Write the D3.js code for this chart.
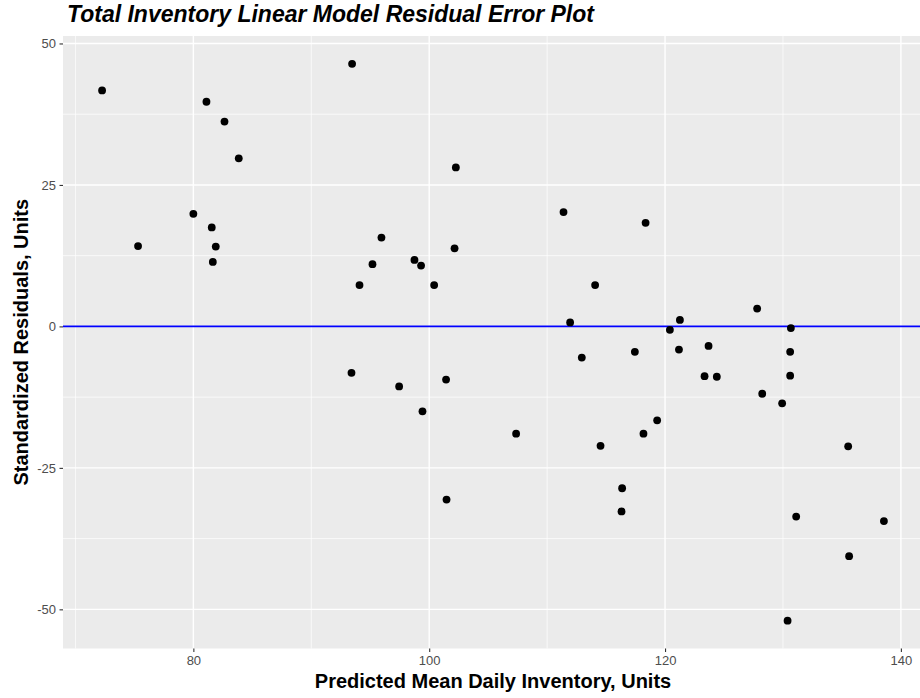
<!DOCTYPE html>
<html>
<head>
<meta charset="utf-8">
<script src="https://cdn.jsdelivr.net/npm/d3@7"></script>
<style>
  html, body { margin: 0; padding: 0; background: #fff; }
  svg { display: block; font-family: "Liberation Sans", Arial, Helvetica, sans-serif; }
</style>
</head>
<body>
<svg id="chart" width="920" height="698"></svg>
<script>
// Predicted mean daily inventory (fitted values) and standardized residuals
const predicted = [
  72.26, 75.31, 80.0, 81.11, 81.56, 81.9, 81.65, 82.64, 83.85,
  93.46, 93.41, 94.09, 95.19, 95.95, 97.45, 98.75, 99.31, 99.43,
  100.42, 101.43, 101.47, 102.15, 102.26, 107.37, 111.39, 111.95,
  112.94, 114.07, 114.53, 116.36, 116.31, 117.44, 118.17, 118.35,
  119.33, 120.41, 121.26, 121.18, 123.35, 123.69, 124.39, 127.81,
  128.24, 129.93, 130.39, 130.67, 130.61, 130.61, 131.12, 135.53,
  135.61, 138.56
];
const residuals = [
  41.7, 14.2, 19.9, 39.7, 17.5, 14.1, 11.4, 36.2, 29.7,
  46.4, -8.2, 7.3, 11.0, 15.7, -10.6, 11.75, 10.75, -15.0,
  7.3, -9.4, -30.6, 13.8, 28.1, -18.95, 20.2, 0.7,
  -5.5, 7.3, -21.1, -28.6, -32.7, -4.5, -18.95, 18.3,
  -16.6, -0.6, 1.15, -4.1, -8.8, -3.45, -8.9, 3.15,
  -11.9, -13.6, -52.0, -0.3, -4.5, -8.7, -33.6, -21.2,
  -40.6, -34.4
];
const xTicks = [80, 100, 120, 140];
const xMinor = [70, 90, 110, 130];
const yTicks = [-50, -25, 0, 25, 50];
const yMinor = [-37.5, -12.5, 12.5, 37.5];

const titleText = "Total Inventory Linear Model Residual Error Plot";
const xLabel = "Predicted Mean Daily Inventory, Units";
const yLabel = "Standardized Residuals, Units";

const svg = d3.select("#chart");
const panel = { left: 63, top: 36, right: 923, bottom: 648.5 };

// 5% padding on each side of the data range
function padded(values) {
  const [lo, hi] = d3.extent(values);
  const pad = (hi - lo) * 0.05;
  return [lo - pad, hi + pad];
}

const x = d3.scaleLinear().domain(padded(predicted)).range([panel.left, panel.right]);
const y = d3.scaleLinear().domain(padded(residuals)).range([panel.bottom, panel.top]);

// panel background
svg.append("rect")
  .attr("x", panel.left).attr("y", panel.top)
  .attr("width", panel.right - panel.left)
  .attr("height", panel.bottom - panel.top)
  .attr("fill", "#EBEBEB");

const grid = svg.append("g");
grid.selectAll(".xminor").data(xMinor).join("line")
  .attr("x1", d => x(d)).attr("x2", d => x(d))
  .attr("y1", panel.top).attr("y2", panel.bottom)
  .attr("stroke", "#fff").attr("stroke-width", 0.7);
grid.selectAll(".yminor").data(yMinor).join("line")
  .attr("y1", d => y(d)).attr("y2", d => y(d))
  .attr("x1", panel.left).attr("x2", panel.right)
  .attr("stroke", "#fff").attr("stroke-width", 0.7);
grid.selectAll(".xmajor").data(xTicks).join("line")
  .attr("x1", d => x(d)).attr("x2", d => x(d))
  .attr("y1", panel.top).attr("y2", panel.bottom)
  .attr("stroke", "#fff").attr("stroke-width", 1.4);
grid.selectAll(".ymajor").data(yTicks).join("line")
  .attr("y1", d => y(d)).attr("y2", d => y(d))
  .attr("x1", panel.left).attr("x2", panel.right)
  .attr("stroke", "#fff").attr("stroke-width", 1.4);

// axes
const xAxis = svg.append("g")
  .attr("transform", `translate(0,${panel.bottom})`)
  .call(d3.axisBottom(x).tickValues(xTicks).tickSize(3.5).tickPadding(3.5).tickFormat(d3.format("d")));
const yAxis = svg.append("g")
  .attr("transform", `translate(${panel.left},0)`)
  .call(d3.axisLeft(y).tickValues(yTicks).tickSize(3.5).tickPadding(3.5).tickFormat(d => d < 0 ? "-" + Math.abs(d) : d));
[xAxis, yAxis].forEach(g => {
  g.select(".domain").remove();
  g.selectAll(".tick line").attr("stroke", "#333").attr("stroke-width", 1.1);
  g.selectAll(".tick text").attr("fill", "#4D4D4D").attr("font-size", 13)
    .attr("font-family", "Liberation Sans, Arial, sans-serif");
});

// zero reference line
svg.append("line")
  .attr("x1", panel.left).attr("x2", panel.right)
  .attr("y1", y(0)).attr("y2", y(0))
  .attr("stroke", "#0000FF").attr("stroke-width", 1.6);

// residual points
svg.append("g").selectAll("circle")
  .data(predicted.map((p, i) => [p, residuals[i]]))
  .join("circle")
  .attr("cx", d => x(d[0]))
  .attr("cy", d => y(d[1]))
  .attr("r", 3.9)
  .attr("fill", "#000");

// titles
svg.append("text")
  .attr("x", 67).attr("y", 22)
  .attr("font-size", 23).attr("font-weight", "bold").attr("font-style", "italic")
  .attr("fill", "#000")
  .text(titleText);

svg.append("text")
  .attr("x", (63 + 923) / 2).attr("y", 688)
  .attr("text-anchor", "middle")
  .attr("font-size", 20).attr("font-weight", "bold").attr("fill", "#000")
  .text(xLabel);

svg.append("text")
  .attr("transform", `translate(28,${(panel.top + panel.bottom) / 2}) rotate(-90)`)
  .attr("text-anchor", "middle")
  .attr("font-size", 20).attr("font-weight", "bold").attr("fill", "#000")
  .text(yLabel);
</script>
</body>
</html>
